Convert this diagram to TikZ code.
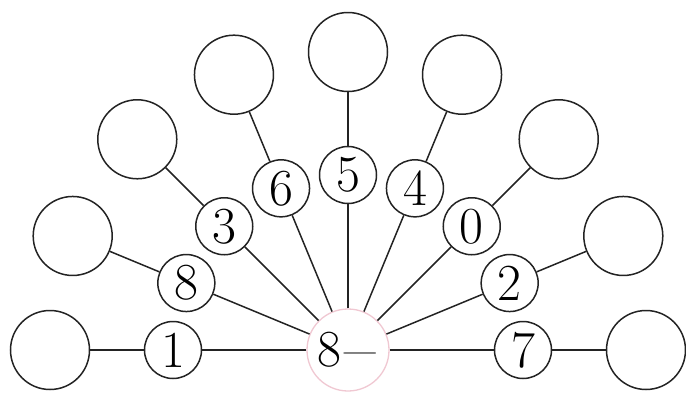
\documentclass[tikz,border=0pt]{standalone}
\usepackage{fontspec}
\setmainfont{Latin Modern Roman}
\definecolor{ringpink}{RGB}{240,200,210}
\definecolor{inkgray}{RGB}{35,35,35}
\definecolor{minusgray}{RGB}{120,120,120}
\begin{document}
\begin{tikzpicture}[x=1pt,y=-1pt,
  inner/.style={circle,draw=inkgray,line width=1.5pt,minimum size=57pt,inner sep=0pt,fill=white,font=\fontsize{52}{56}\selectfont},
  outer/.style={circle,draw=inkgray,line width=1.5pt,minimum size=79pt,inner sep=0pt,fill=white},
  hub/.style={circle,draw=ringpink,line width=1.3pt,minimum size=82pt,inner sep=0pt,fill=white,font=\fontsize{52}{56}\selectfont},
  link/.style={draw=inkgray,line width=1.5pt}]
\useasboundingbox (0,0) rectangle (686,394);
\node[hub] (c) at (348,350) {8\textcolor{minusgray}{−}};
\foreach \a/\l/\i in {180/1/a,157.5/8/b,135/3/c,112.5/6/d,90/5/e,67.5/4/f,45/0/g,22.5/2/h,0/7/i}{
  \node[inner] (n\i) at ({348+175*cos(\a)},{350-175*sin(\a)}) {\l};
  \node[outer] (o\i) at ({348+298*cos(\a)},{350-298*sin(\a)}) {};
  \draw[link] (c) -- (n\i);
  \draw[link] (n\i) -- (o\i);
}
\end{tikzpicture}
\end{document}
